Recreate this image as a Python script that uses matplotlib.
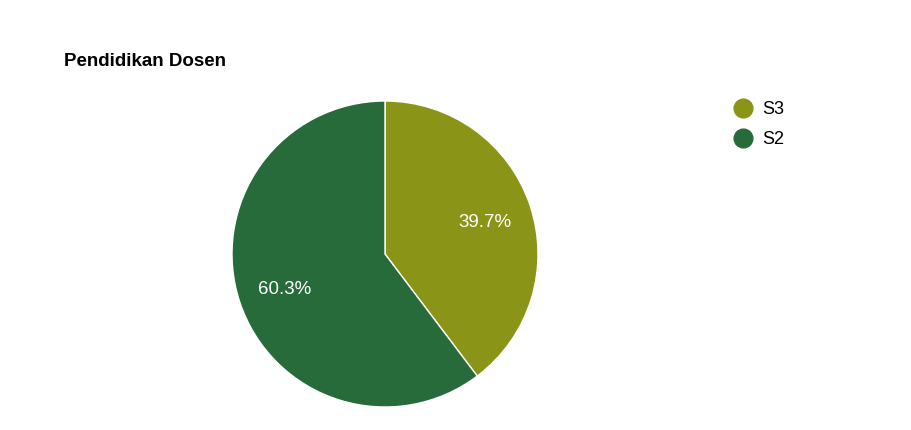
import matplotlib.pyplot as plt
from matplotlib.lines import Line2D

plt.rcParams["font.family"] = ["Liberation Sans", "DejaVu Sans"]

labels = ["S3", "S2"]
shares = [39.7, 60.3]
colors = ["#8a9416", "#276b3b"]
title = "Pendidikan Dosen"

W, H = 912, 430
fig = plt.figure(figsize=(W / 100, H / 100), dpi=100)

cx, cy, r = 385, 254, 153
ax = fig.add_axes([(cx - r) / W, (H - cy - r) / H, 2 * r / W, 2 * r / H])
wedges, _, autotexts = ax.pie(
    shares,
    colors=colors,
    startangle=90,
    counterclock=False,
    radius=1,
    autopct="%.1f%%",
    pctdistance=0.69,
    wedgeprops=dict(edgecolor="white", linewidth=1),
    textprops=dict(color="white", fontsize=13.5),
)
# nudge percentage labels down a touch (about 2px)
for t in autotexts:
    x, y = t.get_position()
    t.set_position((x, y - 2 / r))
ax.set_xlim(-1, 1)
ax.set_ylim(-1, 1)
ax.set_aspect("equal")
ax.axis("off")

fig.text(64 / W, 1 - 61 / H, title, fontsize=13.5, fontweight="bold", va="center", ha="left")

for i, (lab, col) in enumerate(zip(labels, colors)):
    y = 1 - (108 + 30 * i) / H
    fig.add_artist(Line2D([743 / W], [y], marker="o", markersize=13.5, color=col,
                          transform=fig.transFigure, linestyle="none"))
    fig.text(762 / W, y - 2 / H, lab, fontsize=13, va="center", ha="left")

fig.savefig("out.png", dpi=100, facecolor="white")
